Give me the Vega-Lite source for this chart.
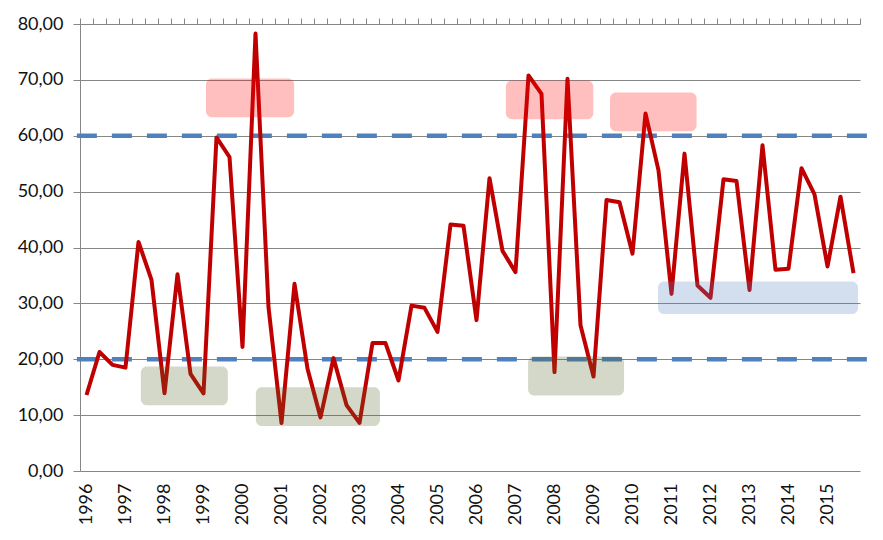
{
  "$schema": "https://vega.github.io/schema/vega-lite/v6.json",
  "width": 780,
  "height": 447,
  "autosize": "none",
  "padding": {"left": 80, "top": 24, "right": 23, "bottom": 69},
  "background": "white",
  "config": {
    "view": {"stroke": null},
    "font": "Lato",
    "axis": {"labelFont": "Lato", "labelFontSize": 18, "labelColor": "#111111", "title": null}
  },
  "datasets": {
    "thresholds": [{"level": 20}, {"level": 60}],
    "series": [
      {"year": 1996, "p": 1, "value": 13.6}, {"year": 1996, "p": 2, "value": 21.3}, {"year": 1996, "p": 3, "value": 19.0},
      {"year": 1997, "p": 1, "value": 18.5}, {"year": 1997, "p": 2, "value": 41.0}, {"year": 1997, "p": 3, "value": 34.2},
      {"year": 1998, "p": 1, "value": 13.9}, {"year": 1998, "p": 2, "value": 35.2}, {"year": 1998, "p": 3, "value": 17.4},
      {"year": 1999, "p": 1, "value": 13.9}, {"year": 1999, "p": 2, "value": 59.7}, {"year": 1999, "p": 3, "value": 56.2},
      {"year": 2000, "p": 1, "value": 22.2}, {"year": 2000, "p": 2, "value": 78.3}, {"year": 2000, "p": 3, "value": 29.3},
      {"year": 2001, "p": 1, "value": 8.6}, {"year": 2001, "p": 2, "value": 33.5}, {"year": 2001, "p": 3, "value": 18.3},
      {"year": 2002, "p": 1, "value": 9.6}, {"year": 2002, "p": 2, "value": 20.2}, {"year": 2002, "p": 3, "value": 11.8},
      {"year": 2003, "p": 1, "value": 8.6}, {"year": 2003, "p": 2, "value": 22.9}, {"year": 2003, "p": 3, "value": 22.9},
      {"year": 2004, "p": 1, "value": 16.2}, {"year": 2004, "p": 2, "value": 29.6}, {"year": 2004, "p": 3, "value": 29.2},
      {"year": 2005, "p": 1, "value": 24.9}, {"year": 2005, "p": 2, "value": 44.1}, {"year": 2005, "p": 3, "value": 43.9},
      {"year": 2006, "p": 1, "value": 27.0}, {"year": 2006, "p": 2, "value": 52.4}, {"year": 2006, "p": 3, "value": 39.4},
      {"year": 2007, "p": 1, "value": 35.6}, {"year": 2007, "p": 2, "value": 70.8}, {"year": 2007, "p": 3, "value": 67.5},
      {"year": 2008, "p": 1, "value": 17.7}, {"year": 2008, "p": 2, "value": 70.2}, {"year": 2008, "p": 3, "value": 26.1},
      {"year": 2009, "p": 1, "value": 16.9}, {"year": 2009, "p": 2, "value": 48.5}, {"year": 2009, "p": 3, "value": 48.1},
      {"year": 2010, "p": 1, "value": 38.9}, {"year": 2010, "p": 2, "value": 64.0}, {"year": 2010, "p": 3, "value": 53.8},
      {"year": 2011, "p": 1, "value": 31.7}, {"year": 2011, "p": 2, "value": 56.8}, {"year": 2011, "p": 3, "value": 33.2},
      {"year": 2012, "p": 1, "value": 31.0}, {"year": 2012, "p": 2, "value": 52.2}, {"year": 2012, "p": 3, "value": 51.9},
      {"year": 2013, "p": 1, "value": 32.4}, {"year": 2013, "p": 2, "value": 58.3}, {"year": 2013, "p": 3, "value": 36.0},
      {"year": 2014, "p": 1, "value": 36.2}, {"year": 2014, "p": 2, "value": 54.2}, {"year": 2014, "p": 3, "value": 49.5},
      {"year": 2015, "p": 1, "value": 36.6}, {"year": 2015, "p": 2, "value": 49.1}, {"year": 2015, "p": 3, "value": 35.4}
    ],
    "zones": [
      {"from": 1999.23, "to": 2001.49, "low": 63.3, "high": 70.25, "kind": "high"},
      {"from": 2006.92, "to": 2009.16, "low": 62.97, "high": 69.9, "kind": "high"},
      {"from": 2009.59, "to": 2011.81, "low": 60.8, "high": 67.75, "kind": "high"},
      {"from": 2010.82, "to": 2015.95, "low": 28.1, "high": 33.9, "kind": "mid"},
      {"from": 1997.56, "to": 1999.79, "low": 11.75, "high": 18.7, "kind": "low"},
      {"from": 2000.51, "to": 2003.69, "low": 8.05, "high": 15.0, "kind": "low"},
      {"from": 2007.49, "to": 2009.95, "low": 13.5, "high": 20.5, "kind": "low"}
    ]
  },
  "resolve": {"axis": {"x": "independent"}},
  "layer": [
    {
      "data": {"name": "thresholds"},
      "mark": {"type": "rule", "color": "#4F81BD", "strokeWidth": 4.5, "strokeDash": [20, 15]},
      "encoding": {
        "y": {
          "field": "level", "type": "quantitative",
          "scale": {"domain": [0, 80], "nice": false, "zero": true},
          "axis": {
            "values": [0, 10, 20, 30, 40, 50, 60, 70, 80],
            "grid": true, "gridColor": "#868686", "gridWidth": 1,
            "tickSize": 7, "tickColor": "#868686",
            "domain": true, "domainColor": "#868686",
            "labelPadding": 10,
            "labelExpr": "replace(format(datum.value, '.2f'), '.', ',')"
          }
        },
        "x": {"datum": 1995.92, "type": "quantitative", "scale": {"domain": [1996, 2016], "nice": false, "zero": false}, "axis": null},
        "x2": {"datum": 2016.2}
      }
    },
    {
      "data": {"name": "series"},
      "transform": [{"calculate": "datum.year + (datum.p - 0.5) / 3", "as": "t"}],
      "mark": {"type": "line", "color": "#C00000", "strokeWidth": 4, "strokeJoin": "round"},
      "encoding": {
        "x": {
          "field": "t", "type": "quantitative",
          "axis": {
            "values": [1996.1667, 1997.1667, 1998.1667, 1999.1667, 2000.1667, 2001.1667, 2002.1667, 2003.1667, 2004.1667, 2005.1667, 2006.1667, 2007.1667, 2008.1667, 2009.1667, 2010.1667, 2011.1667, 2012.1667, 2013.1667, 2014.1667, 2015.1667],
            "ticks": false, "domain": false, "grid": false,
            "labelAngle": -90, "labelAlign": "right", "labelBaseline": "middle",
            "labelPadding": 12, "labelOverlap": false, "labelFlush": false,
            "labelExpr": "toString(floor(datum.value))"
          }
        },
        "y": {"field": "value", "type": "quantitative"}
      }
    },
    {
      "data": {"name": "zones"},
      "mark": {"type": "rect", "opacity": 0.25, "cornerRadius": 6},
      "encoding": {
        "x": {
          "field": "from", "type": "quantitative",
          "axis": {
            "values": [1996, 1996.3333, 1996.6667, 1997, 1997.3333, 1997.6667, 1998, 1998.3333, 1998.6667, 1999, 1999.3333, 1999.6667, 2000, 2000.3333, 2000.6667, 2001, 2001.3333, 2001.6667, 2002, 2002.3333, 2002.6667, 2003, 2003.3333, 2003.6667, 2004, 2004.3333, 2004.6667, 2005, 2005.3333, 2005.6667, 2006, 2006.3333, 2006.6667, 2007, 2007.3333, 2007.6667, 2008, 2008.3333, 2008.6667, 2009, 2009.3333, 2009.6667, 2010, 2010.3333, 2010.6667, 2011, 2011.3333, 2011.6667, 2012, 2012.3333, 2012.6667, 2013, 2013.3333, 2013.6667, 2014, 2014.3333, 2014.6667, 2015, 2015.3333, 2015.6667, 2016],
            "labels": false, "ticks": true, "tickSize": 6, "tickColor": "#868686",
            "domain": true, "domainColor": "#868686", "grid": false
          }
        },
        "x2": {"field": "to"},
        "y": {"field": "low", "type": "quantitative"},
        "y2": {"field": "high"},
        "fill": {
          "field": "kind", "type": "nominal",
          "scale": {"domain": ["high", "mid", "low"], "range": ["#FF0000", "#4F81BD", "#4F6228"]},
          "legend": null
        }
      }
    }
  ]
}
